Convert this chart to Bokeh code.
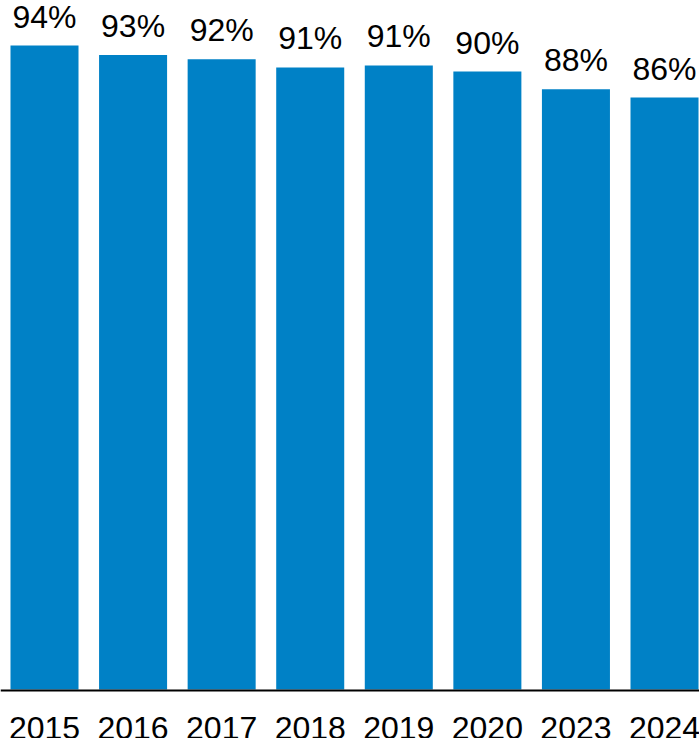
from bokeh.plotting import figure
from bokeh.models import ColumnDataSource, Range1d, Span
from bokeh.core.properties import value
from bokeh.embed import file_html
from bokeh.resources import INLINE

years = ["2015", "2016", "2017", "2018", "2019", "2020", "2023", "2024"]
shares = [94.0, 92.6, 92.0, 90.8, 91.1, 90.2, 87.6, 86.4]
share_labels = ["94%", "93%", "92%", "91%", "91%", "90%", "88%", "86%"]

idx = list(range(len(years)))
src = ColumnDataSource(dict(x=idx, top=shares, label=share_labels, year=years,
                            zero=[0] * len(years)))

W, H = 699, 738
p = figure(width=W, height=H, output_backend="svg", toolbar_location=None,
           x_range=Range1d(-0.4968, 7.395), y_range=Range1d(-7.152, 100.57),
           min_border=0, min_border_left=0, min_border_right=0,
           min_border_top=0, min_border_bottom=0)
p.outline_line_color = None
p.xaxis.visible = False
p.yaxis.visible = False
p.grid.visible = False
p.background_fill_color = "white"
p.border_fill_color = "white"

p.vbar(x="x", top="top", bottom=0, width=0.768, source=src,
       fill_color="#0081C6", line_color=None)

p.add_layout(Span(location=-0.146, dimension="width", line_color="black", line_width=2))

p.text(x="x", y="top", text="label", source=src, text_align="center",
       text_baseline="alphabetic", y_offset=-29, text_font=value("Liberation Sans"),
       text_font_size="32px", text_color="black")

p.text(x="x", y="zero", text="year", source=src, text_align="center",
       text_baseline="alphabetic", y_offset=38, text_font=value("Liberation Sans"),
       text_font_size="32px", text_color="black")

open("out.html", "w").write(file_html(p, INLINE))
